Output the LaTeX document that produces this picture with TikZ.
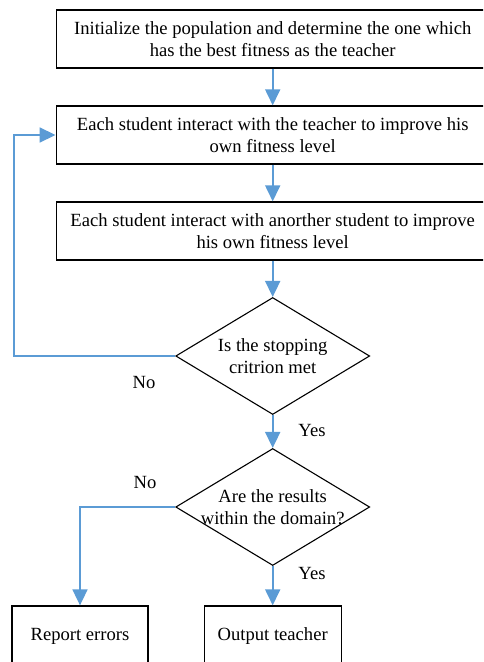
\documentclass[tikz,border=0pt]{standalone}
\usepackage{fontspec}
\setmainfont{Liberation Serif}
\usetikzlibrary{shapes.geometric,arrows.meta}
\definecolor{flowblue}{HTML}{5B9BD5}
\tikzset{
  txt/.style={font=\fontsize{18.6}{22}\selectfont},
  procbox/.style={txt, draw=black, line width=1.3pt, fill=white, align=center,
    inner sep=0pt},
  decision/.style={diamond, draw=black, line width=1.1pt,
    inner sep=0pt, minimum width=194pt, minimum height=117pt},
  dtext/.style={txt, align=center, inner sep=0pt},
  flow/.style={draw=flowblue, line width=1.8pt,
    -{Triangle[width=15pt,length=16pt]}},
  lbl/.style={font=\fontsize{18.6}{20}\selectfont, inner sep=0pt}
}
\begin{document}
\begin{tikzpicture}[x=1pt,y=-1pt]
  \useasboundingbox (0,0) rectangle (483,662);
  \clip (0,0) rectangle (483,662);

  % process boxes
  \node[procbox, minimum width=433pt, minimum height=58pt] (init) at (272.7,39)
    {Initialize the population and determine the one which\\has the best fitness as the teacher};
  \node[procbox, minimum width=433pt, minimum height=58pt] (teach) at (272.7,135)
    {Each student interact with the teacher to improve his\\own fitness level};
  \node[procbox, minimum width=433pt, minimum height=58pt] (peer) at (272.7,231)
    {Each student interact with anorther student to improve\\his own fitness level};

  % decisions: fixed-size diamonds with their text set on top
  \node[decision] (stop) at (272.7,356) {};
  \node[dtext] (stoptext) at (stop.center) {Is the stopping\\critrion met};
  \node[decision] (dom) at (272.7,507) {};
  \node[dtext] (domtext) at (dom.center) {Are the results\\within the domain?};

  % outputs
  \node[procbox, minimum width=136pt, minimum height=60pt] (err) at (80,636) {Report errors};
  \node[procbox, minimum width=137pt, minimum height=60pt] (out) at (272.7,636) {Output teacher};

  \coordinate (loopA) at (14,356);
  \coordinate (loopB) at (14,135);
  \coordinate (noB) at (80,507);

  % connectors
  \draw[flow] (init) -- (teach);
  \draw[flow] (teach) -- (peer);
  \draw[flow] (peer) -- (stop);
  \draw[flow] (stop.west) -- (loopA) -- (loopB) -- (teach.west);
  \draw[flow] (stop) -- (dom);
  \draw[flow] (dom.west) -- (noB) -- (err);
  \draw[flow] (dom) -- (out);

  % branch labels
  \node[lbl] (no1) at (144,382) {No};
  \node[lbl] (yes1) at (312,430) {Yes};
  \node[lbl] (no2) at (145,482) {No};
  \node[lbl] (yes2) at (312,573) {Yes};
\end{tikzpicture}
\end{document}
